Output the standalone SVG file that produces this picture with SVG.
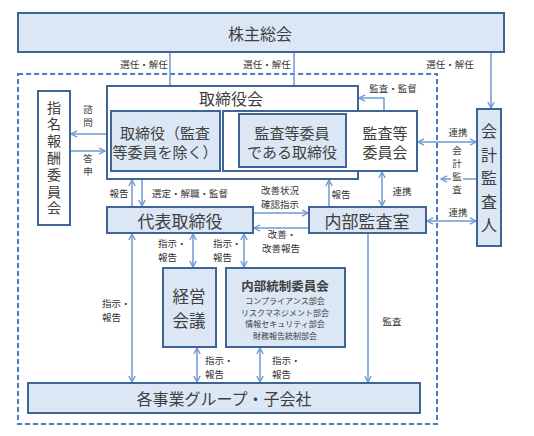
<svg xmlns="http://www.w3.org/2000/svg" width="534" height="436" viewBox="0 0 534 436">
<style>
.box{fill:#dbe7f5;stroke:#3e6596;stroke-width:2}
.wbox{fill:#ffffff;stroke:#3e6596;stroke-width:2}
.t{font-family:"Noto Sans CJK JP",sans-serif;fill:#404040;text-anchor:middle;dominant-baseline:central}
.v{font-family:"Noto Sans CJK JP",sans-serif;fill:#404040;text-anchor:middle;writing-mode:vertical-rl;text-orientation:upright}
.l{font-family:"Noto Sans CJK JP",sans-serif;font-size:9.5px;fill:#333;text-anchor:middle;dominant-baseline:central}
.ls{font-family:"Noto Sans CJK JP",sans-serif;font-size:9.5px;fill:#333;text-anchor:start;dominant-baseline:central}
.c{fill:none;stroke:#6e9ad2;stroke-width:1.5}
.c1{marker-end:url(#a)}
.c2{marker-start:url(#a);marker-end:url(#a)}
</style>
<defs>
<marker id="a" viewBox="0 0 8 8" refX="7" refY="4" markerWidth="8" markerHeight="8" markerUnits="userSpaceOnUse" orient="auto-start-reverse">
<path d="M1,0.8 L7,4 L1,7.2" fill="none" stroke="#6e9ad2" stroke-width="1.4"/>
</marker>
</defs>
<rect width="534" height="436" fill="#fff"/>
<rect x="18" y="74" width="419" height="350" fill="none" stroke="#4a7cc0" stroke-width="2" stroke-dasharray="5,3"/>

<g id="connectors">
<path class="c c1" d="M170,52 V110"/>
<path class="c c1" d="M294,52 V113"/>
<path class="c c1" d="M491,52 V108"/>
<path class="c c1" d="M384,111 V98 H359"/>
<path class="c c1" d="M106,134 H71"/>
<path class="c c1" d="M70,151 H105"/>
<path class="c c1" d="M132,207 V180"/>
<path class="c c1" d="M142,180 V206"/>
<path class="c c1" d="M253,213 H308"/>
<path class="c c1" d="M309,228 H254"/>
<path class="c c1" d="M329,207 V180"/>
<path class="c c2" d="M382,172 V206"/>
<path class="c c2" d="M418,142 H476"/>
<path class="c c1" d="M477,179 H441"/>
<path class="c c2" d="M427,221 H476"/>
<path class="c c2" d="M132,234 V382"/>
<path class="c c2" d="M193,234 V267"/>
<path class="c c2" d="M244,234 V267"/>
<path class="c c2" d="M197,348 V382"/>
<path class="c c2" d="M260,348 V382"/>
<path class="c c1" d="M368,233 V382"/>
<text class="l" x="144" y="64">選任・解任</text>
<text class="l" x="267" y="64">選任・解任</text>
<text class="l" x="450" y="64">選任・解任</text>
<text class="l" x="393" y="88">監査・監督</text>
<text class="v" x="88" y="118" font-size="9.5" letter-spacing="3.5">諮問</text>
<text class="v" x="88" y="167" font-size="9.5" letter-spacing="3.5">答申</text>
<text class="l" x="119" y="193">報告</text>
<text class="l" x="190" y="193">選定・解職・監督</text>
<text class="l" x="280"><tspan x="280" y="190">改善状況</tspan><tspan x="280" y="204">確認指示</tspan></text>
<text class="l" x="281"><tspan x="282" y="234">改善・</tspan><tspan x="281" y="248">改善報告</tspan></text>
<text class="l" x="341" y="194">報告</text>
<text class="l" x="402" y="191">連携</text>
<text class="l" x="458" y="132">連携</text>
<rect x="451" y="145" width="12" height="52" fill="#fff"/>
<text class="v" x="457" y="172" font-size="9.5" letter-spacing="3.5">会計監査</text>
<text class="l" x="458" y="212">連携</text>
<text class="ls"><tspan x="158" y="243">指示・</tspan><tspan x="158" y="257">報告</tspan></text>
<text class="ls"><tspan x="213" y="243">指示・</tspan><tspan x="213" y="257">報告</tspan></text>
<text class="ls"><tspan x="102" y="303">指示・</tspan><tspan x="102" y="317">報告</tspan></text>
<text class="ls"><tspan x="205" y="360">指示・</tspan><tspan x="205" y="374">報告</tspan></text>
<text class="ls"><tspan x="272" y="360">指示・</tspan><tspan x="272" y="374">報告</tspan></text>
<text class="l" x="392" y="321">監査</text>
</g>

<g id="shareholders">
<rect class="box" x="18" y="13" width="486" height="39"/>
<text class="t" x="260" y="33" font-size="16">株主総会</text>
</g>

<g id="board">
<rect class="wbox" x="107" y="86" width="251" height="93"/>
<text class="t" x="231" y="98" font-size="16">取締役会</text>
</g>

<g id="directors">
<rect class="box" x="111" y="111" width="109" height="60"/>
<text class="t" font-size="15"><tspan x="165" y="132">取締役（監査</tspan><tspan x="165" y="151">等委員を除く）</tspan></text>
</g>

<g id="audit-committee">
<rect class="wbox" x="223" y="111" width="194" height="60"/>
<text class="t" font-size="15"><tspan x="385" y="132">監査等</tspan><tspan x="385" y="151">委員会</tspan></text>
</g>

<g id="audit-directors">
<rect class="box" x="239" y="114" width="107" height="53"/>
<text class="t" font-size="15"><tspan x="292" y="132">監査等委員</tspan><tspan x="292" y="151">である取締役</tspan></text>
</g>

<g id="nomination">
<rect class="wbox" x="38" y="91" width="32" height="134"/>
<text class="v" x="54" y="159" font-size="14" letter-spacing="2.8">指名報酬委員会</text>
</g>

<g id="ceo">
<rect class="box" x="107" y="207" width="146" height="26"/>
<text class="t" x="180" y="220" font-size="17">代表取締役</text>
</g>

<g id="internal-audit">
<rect class="box" x="309" y="207" width="117" height="26"/>
<text class="t" x="367" y="220" font-size="17">内部監査室</text>
</g>

<g id="accounting-auditor">
<rect class="box" x="477" y="109" width="24" height="137"/>
<text class="v" x="489" y="182" font-size="16" letter-spacing="7.5">会計監査人</text>
</g>

<g id="management-meeting">
<rect class="box" x="163" y="268" width="53" height="79"/>
<text class="t" font-size="16.5"><tspan x="189" y="296">経営</tspan><tspan x="189" y="320">会議</tspan></text>
</g>

<g id="internal-control">
<rect class="box" x="226" y="268" width="119" height="79"/>
<text class="t" x="285" y="285" font-size="12.5" font-weight="bold" fill="#222">内部統制委員会</text>
<text class="t" font-size="8" fill="#222"><tspan x="285" y="300">コンプライアンス部会</tspan><tspan x="285" y="311.7">リスクマネジメント部会</tspan><tspan x="285" y="323.4">情報セキュリティ部会</tspan><tspan x="285" y="335.1">財務報告統制部会</tspan></text>
</g>

<g id="business-groups">
<rect class="box" x="28" y="383" width="392" height="30"/>
<text class="t" x="224" y="398" font-size="16">各事業グループ・子会社</text>
</g>
</svg>
